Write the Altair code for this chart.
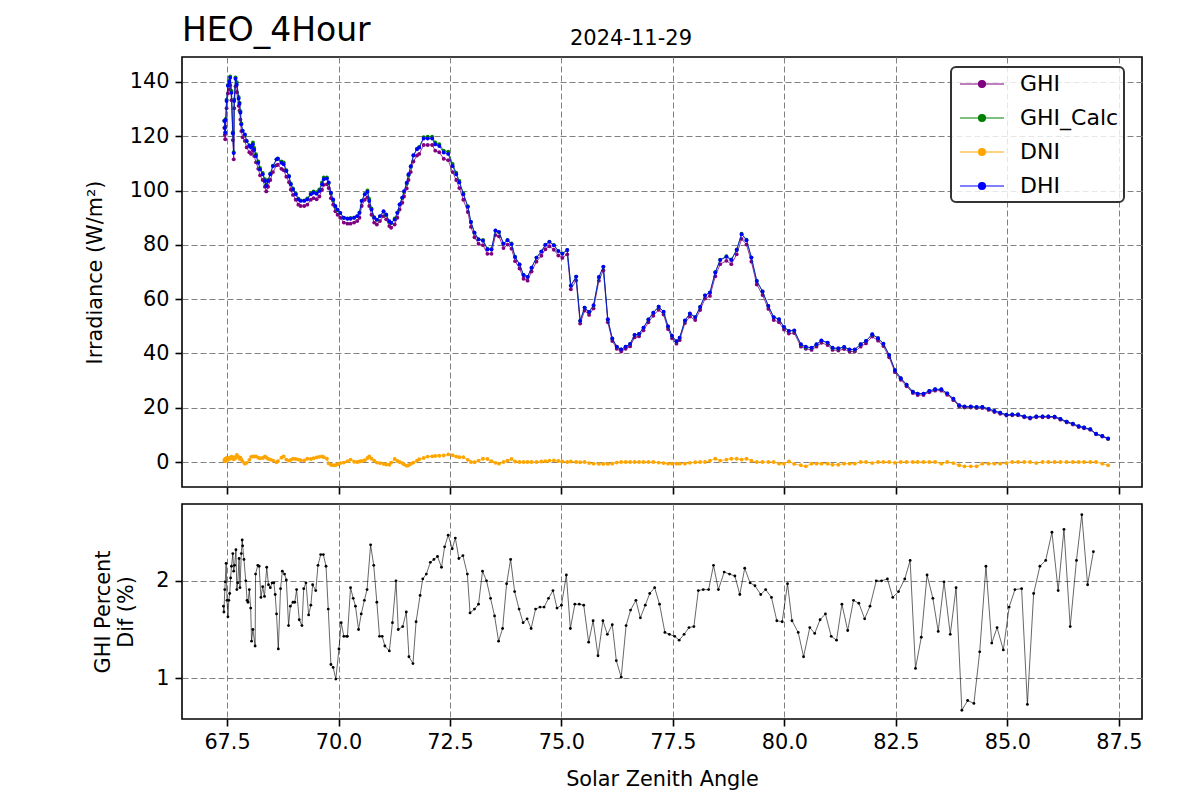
import altair as alt
import pandas as pd

FONT = "DejaVu Sans"

# ---------------- top panel data (solar zenith angle, W/m2) ----------------
sza = [
    67.44, 67.45, 67.46, 67.47, 67.49, 67.52, 67.55, 67.57, 67.60, 67.63,
    67.65, 67.66, 67.69, 67.72, 67.76, 67.78, 67.80, 67.82, 67.85, 67.90,
    67.94, 68.00, 68.04, 68.08, 68.11, 68.15, 68.20, 68.24, 68.30, 68.35,
    68.38, 68.42, 68.47, 68.53, 68.61, 68.64, 68.72, 68.77, 68.83, 68.89,
    68.93, 68.98, 69.04, 69.10, 69.15, 69.23, 69.30, 69.38, 69.44, 69.51,
    69.57, 69.63, 69.67, 69.74, 69.78, 69.83, 69.88, 69.93, 69.98, 70.04,
    70.12, 70.20, 70.27, 70.35, 70.42, 70.47, 70.52, 70.59, 70.65, 70.69,
    70.74, 70.80, 70.86, 70.93, 71.01, 71.07, 71.14, 71.18, 71.26, 71.32,
    71.37, 71.43, 71.47, 71.53, 71.57, 71.62, 71.68, 71.76, 71.81, 71.91,
    72.00, 72.10, 72.17, 72.26, 72.36, 72.46, 72.56, 72.64, 72.71, 72.80,
    72.90, 72.97, 73.05, 73.14, 73.24, 73.34, 73.43, 73.52, 73.60, 73.70,
    73.79, 73.88, 73.96, 74.06, 74.15, 74.24, 74.33, 74.44, 74.55, 74.64,
    74.73, 74.83, 74.93, 75.02, 75.13, 75.21, 75.33, 75.42, 75.52, 75.62,
    75.72, 75.84, 75.94, 76.04, 76.14, 76.24, 76.34, 76.44, 76.54, 76.64,
    76.74, 76.84, 76.95, 77.06, 77.18, 77.29, 77.39, 77.48, 77.58, 77.65,
    77.77, 77.88, 78.00, 78.11, 78.22, 78.33, 78.45, 78.56, 78.70, 78.81,
    78.93, 79.04, 79.15, 79.26, 79.38, 79.51, 79.64, 79.76, 79.88, 79.99,
    80.10, 80.22, 80.37, 80.48, 80.61, 80.72, 80.83, 80.97, 81.08, 81.21,
    81.34, 81.46, 81.58, 81.71, 81.83, 81.97, 82.10, 82.22, 82.35, 82.48,
    82.61, 82.74, 82.88, 82.99, 83.12, 83.25, 83.38, 83.52, 83.65, 83.79,
    83.92, 84.04, 84.18, 84.31, 84.44, 84.58, 84.71, 84.84, 84.98, 85.11,
    85.24, 85.38, 85.51, 85.65, 85.79, 85.92, 86.06, 86.19, 86.33, 86.47,
    86.60, 86.72, 86.86, 86.99, 87.13, 87.26,
]

dhi = [
    125.6, 123.0, 121.3, 126.0, 133.0, 138.6, 140.0, 141.6, 136.0, 121.0,
    113.8, 133.0, 141.2, 139.0, 133.9, 132.0, 128.7, 124.4, 122.0, 120.7,
    118.3, 116.4, 115.8, 117.0, 115.0, 112.7, 110.2, 107.8, 106.0, 103.5,
    101.7, 103.5, 106.0, 109.0, 111.5, 111.7, 110.2, 109.7, 107.2, 105.2,
    102.3, 100.4, 98.6, 96.7, 96.2, 96.2, 96.7, 98.6, 99.2, 98.8,
    99.8, 102.3, 104.2, 104.4, 103.0, 99.2, 96.7, 94.3, 93.0, 91.8,
    90.0, 89.6, 89.6, 90.0, 90.6, 91.8, 96.2, 98.6, 99.5, 96.2,
    93.0, 90.0, 89.3, 90.6, 92.4, 91.2, 88.7, 88.1, 89.3, 91.8,
    94.9, 97.4, 99.8, 102.9, 106.0, 109.0, 113.0, 115.2, 115.8, 119.2,
    119.2, 119.2, 117.0, 116.4, 114.0, 113.5, 109.0, 106.0, 103.0, 98.6,
    94.0, 88.4, 84.5, 82.0, 81.5, 78.3, 78.3, 85.3, 84.8, 80.4,
    81.7, 80.2, 75.5, 72.8, 68.9, 68.2, 71.6, 75.3, 77.5, 80.0,
    81.1, 79.8, 77.7, 76.7, 78.1, 64.9, 68.3, 52.0, 56.9, 55.3,
    57.8, 68.2, 72.0, 52.6, 45.5, 42.5, 41.5, 42.5, 43.5, 46.8,
    47.2, 49.5, 52.5, 55.0, 57.2, 55.4, 50.0, 46.5, 44.5, 45.8,
    52.2, 54.7, 53.4, 57.1, 61.4, 62.4, 69.8, 74.4, 75.6, 74.4,
    78.1, 83.9, 81.7, 75.3, 66.7, 62.8, 57.5, 53.4, 52.6, 49.8,
    48.3, 48.5, 43.4, 42.5, 42.1, 43.4, 44.8, 44.0, 42.1, 41.9,
    42.4, 41.5, 41.5, 43.4, 44.6, 47.1, 45.6, 43.6, 39.4, 33.8,
    30.9, 28.5, 25.9, 25.2, 25.2, 26.2, 26.8, 26.8, 25.3, 23.3,
    20.9, 20.5, 20.5, 20.3, 20.3, 19.6, 18.8, 18.2, 17.4, 17.5,
    17.5, 16.8, 16.3, 16.8, 16.8, 16.8, 16.7, 15.9, 14.9, 14.1,
    13.2, 12.7, 12.1, 10.4, 9.6, 8.7,
]

ghi = [
    123.1, 120.5, 118.9, 123.5, 130.3, 135.8, 137.2, 138.8, 133.3, 118.6,
    111.5, 130.3, 138.4, 136.2, 131.2, 129.4, 126.1, 121.9, 119.6, 118.3,
    115.9, 114.1, 113.5, 114.7, 112.7, 110.4, 108.0, 105.6, 103.9, 101.4,
    99.7, 101.4, 103.9, 106.8, 109.3, 109.5, 108.0, 107.5, 105.1, 103.1,
    100.3, 98.4, 96.6, 94.8, 94.3, 94.3, 94.8, 96.6, 97.2, 96.8,
    97.8, 100.3, 102.1, 102.3, 100.9, 97.2, 94.8, 92.4, 91.1, 90.0,
    88.2, 87.8, 87.8, 88.2, 88.8, 90.0, 94.3, 96.6, 97.5, 94.3,
    91.1, 88.2, 87.5, 88.8, 90.6, 89.4, 86.9, 86.3, 87.5, 90.0,
    93.0, 95.5, 97.8, 100.8, 103.9, 106.8, 110.7, 112.9, 113.5, 116.8,
    116.8, 116.8, 114.7, 114.1, 111.7, 111.2, 106.8, 103.9, 100.9, 96.6,
    92.1, 86.6, 82.8, 80.4, 79.9, 76.7, 76.7, 83.6, 83.1, 78.8,
    80.1, 78.6, 74.0, 71.3, 67.5, 66.8, 70.2, 73.8, 76.0, 78.4,
    79.5, 78.2, 76.1, 75.2, 76.5, 63.6, 66.9, 51.0, 55.8, 54.2,
    56.6, 66.8, 70.6, 51.5, 44.6, 41.7, 40.7, 41.7, 42.6, 45.9,
    46.3, 48.5, 51.5, 53.9, 56.1, 54.3, 49.0, 45.6, 43.6, 44.9,
    51.2, 53.6, 52.3, 56.0, 60.2, 61.2, 68.4, 72.9, 74.1, 72.9,
    76.5, 82.2, 80.1, 73.8, 65.4, 61.5, 56.4, 52.3, 51.5, 48.8,
    47.3, 47.5, 42.5, 41.7, 41.3, 42.5, 43.9, 43.1, 41.3, 41.1,
    41.6, 40.7, 40.7, 42.5, 43.7, 46.2, 44.7, 42.7, 38.6, 33.1,
    30.3, 27.9, 25.4, 24.7, 24.7, 25.7, 26.3, 26.3, 24.8, 22.8,
    20.5, 20.1, 20.1, 19.9, 19.9, 19.2, 18.4, 17.8, 17.1, 17.2,
    17.2, 16.5, 16.0, 16.5, 16.5, 16.5, 16.4, 15.6, 14.6, 13.8,
    12.9, 12.4, 11.9, 10.2, 9.4, 8.5,
]

ghi_calc = [
    125.8, 123.3, 121.4, 126.4, 133.5, 138.9, 140.5, 142.0, 136.7, 121.5,
    114.1, 133.6, 141.7, 139.9, 134.5, 132.4, 129.2, 124.7, 122.1, 120.5,
    118.2, 116.7, 116.4, 117.7, 115.7, 113.4, 110.7, 108.3, 106.5, 104.2,
    102.2, 103.9, 106.3, 109.2, 111.5, 111.8, 110.7, 110.4, 107.5, 105.4,
    102.6, 100.8, 99.0, 97.0, 96.4, 96.4, 97.1, 99.0, 99.7, 99.4,
    100.4, 103.0, 104.8, 104.8, 102.8, 98.9, 96.3, 93.9, 92.7, 91.7,
    89.9, 89.7, 89.9, 90.0, 90.6, 91.9, 96.3, 98.8, 100.0, 96.9,
    93.4, 90.2, 89.2, 90.5, 92.2, 90.9, 88.4, 88.0, 89.7, 91.9,
    94.9, 97.3, 99.5, 102.5, 105.6, 108.8, 112.9, 115.4, 116.1, 119.7,
    119.8, 119.8, 117.7, 117.1, 114.7, 114.3, 109.8, 106.6, 103.5, 99.1,
    94.2, 88.4, 84.5, 82.1, 81.8, 78.6, 78.4, 85.2, 84.6, 80.4,
    81.8, 80.5, 75.6, 72.8, 68.9, 68.2, 71.6, 75.3, 77.6, 80.1,
    81.2, 80.0, 77.8, 76.8, 78.1, 65.0, 68.3, 52.0, 56.9, 55.2,
    57.6, 68.0, 71.8, 52.4, 45.4, 42.5, 41.5, 42.5, 43.5, 46.8,
    47.2, 49.5, 52.5, 55.0, 57.2, 55.3, 49.9, 46.4, 44.4, 45.7,
    52.1, 54.6, 53.4, 57.1, 61.4, 62.5, 70.0, 74.5, 75.8, 74.6,
    78.3, 84.1, 81.9, 75.4, 66.7, 62.8, 57.5, 53.4, 52.5, 49.7,
    48.3, 48.4, 43.2, 42.2, 42.0, 43.3, 44.7, 43.9, 41.9, 41.7,
    42.3, 41.4, 41.4, 43.4, 44.6, 47.0, 45.6, 43.6, 39.4, 33.8,
    30.9, 28.5, 25.9, 25.2, 25.2, 26.2, 26.8, 26.7, 25.3, 23.3,
    20.8, 20.4, 20.4, 20.2, 20.3, 19.6, 18.8, 18.2, 17.4, 17.5,
    17.5, 16.8, 16.3, 16.8, 16.8, 16.8, 16.7, 15.9, 14.9, 14.1,
    13.2, 12.7, 12.1, 10.4, 9.6, 8.6,
]

dni = [
    0.5, 1.0, 0.3, 1.2, 1.5, 0.8, 1.6, 1.2, 2.0, 1.4,
    1.0, 1.8, 1.5, 2.6, 1.9, 1.2, 1.6, 0.9, 0.2, -0.6,
    -0.3, 0.8, 1.9, 2.1, 2.0, 2.1, 1.6, 1.4, 1.5, 2.1,
    1.6, 1.2, 0.9, 0.6, -0.1, 0.3, 1.6, 2.1, 0.9, 0.5,
    0.8, 1.2, 1.1, 0.9, 0.7, 0.6, 1.2, 1.1, 1.4, 1.7,
    1.9, 2.1, 1.8, 1.2, -0.5, -1.0, -1.2, -1.2, -0.8, -0.4,
    -0.2, 0.3, 0.9, 0.1, 0.0, 0.2, 0.4, 0.7, 1.5, 2.1,
    1.2, 0.5, -0.2, -0.4, -0.7, -0.9, -1.0, -0.2, 1.1, 0.4,
    0.0, -0.4, -0.9, -1.4, -1.2, -0.7, -0.2, 0.5, 1.0, 1.5,
    2.0, 2.1, 2.2, 2.3, 2.4, 2.8, 2.5, 2.0, 1.8, 1.8,
    0.8, 0.0, -0.1, 0.5, 1.2, 1.1, 0.3, -0.3, -0.6, 0.0,
    0.5, 1.1, 0.2, 0.0, 0.0, 0.0, 0.0, 0.0, 0.2, 0.3,
    0.5, 0.6, 0.4, 0.2, 0.0, 0.2, 0.0, -0.1, 0.0, -0.4,
    -0.6, -0.7, -0.7, -0.7, -0.6, -0.2, 0.0, 0.0, 0.0, 0.0,
    0.0, 0.0, 0.0, 0.0, -0.2, -0.4, -0.6, -0.6, -0.6, -0.6,
    -0.6, -0.3, -0.1, 0.0, 0.0, 0.5, 1.2, 0.5, 0.9, 1.2,
    1.2, 0.9, 1.2, 0.5, 0.0, 0.0, 0.0, 0.0, -0.6, -0.6,
    0.2, -0.7, -1.2, -1.6, -0.6, -0.6, -0.6, -0.6, -1.0, -1.0,
    -0.6, -0.6, -0.6, 0.0, 0.0, -0.4, 0.0, 0.0, 0.0, -0.3,
    0.0, 0.0, 0.0, 0.0, 0.0, 0.0, 0.0, -0.6, 0.0, -0.4,
    -1.2, -1.6, -1.6, -1.6, -0.6, -0.6, -0.6, -0.6, -0.4, 0.0,
    0.0, 0.0, 0.0, -0.4, 0.0, 0.0, 0.0, 0.0, 0.0, 0.0,
    0.0, 0.0, 0.0, 0.0, -0.6, -1.2,
]

# ---------------- bottom panel data (GHI percent difference) ----------------
sza_pct = [
    67.42, 67.43, 67.45, 67.46, 67.48, 67.50, 67.52, 67.54, 67.56, 67.58,
    67.60, 67.63, 67.65, 67.67, 67.70, 67.72, 67.74, 67.77, 67.79, 67.82,
    67.84, 67.85, 67.88, 67.92, 67.95, 67.97, 68.00, 68.03, 68.05, 68.08,
    68.13, 68.14, 68.19, 68.22, 68.26, 68.30, 68.34, 68.39, 68.43, 68.47,
    68.51, 68.55, 68.58, 68.61, 68.65, 68.70, 68.74, 68.79, 68.83, 68.88,
    68.92, 68.98, 69.02, 69.06, 69.12, 69.18, 69.22, 69.27, 69.33, 69.38,
    69.42, 69.49, 69.54, 69.60, 69.66, 69.72, 69.77, 69.83, 69.88, 69.94,
    70.01, 70.06, 70.12, 70.18, 70.20, 70.27, 70.33, 70.38, 70.45, 70.51,
    70.58, 70.64, 70.72, 70.79, 70.86, 70.92, 70.98, 71.04, 71.14, 71.21,
    71.29, 71.34, 71.44, 71.52, 71.58, 71.67, 71.74, 71.83, 71.89, 71.97,
    72.06, 72.14, 72.22, 72.31, 72.38, 72.46, 72.55, 72.62, 72.70, 72.79,
    72.89, 72.95, 73.05, 73.14, 73.23, 73.32, 73.41, 73.50, 73.59, 73.68,
    73.77, 73.86, 73.95, 74.05, 74.14, 74.23, 74.32, 74.42, 74.52, 74.61,
    74.71, 74.81, 74.90, 75.00, 75.11, 75.20, 75.30, 75.40, 75.50, 75.61,
    75.71, 75.82, 75.93, 76.03, 76.14, 76.23, 76.34, 76.45, 76.55, 76.67,
    76.77, 76.88, 76.98, 77.09, 77.20, 77.32, 77.42, 77.54, 77.64, 77.75,
    77.86, 77.97, 78.07, 78.18, 78.30, 78.41, 78.52, 78.65, 78.77, 78.89,
    79.00, 79.11, 79.23, 79.34, 79.47, 79.58, 79.71, 79.83, 79.95, 80.07,
    80.17, 80.31, 80.43, 80.57, 80.68, 80.80, 80.92, 81.05, 81.17, 81.29,
    81.42, 81.55, 81.67, 81.80, 81.92, 82.06, 82.18, 82.31, 82.43, 82.56,
    82.70, 82.82, 82.94, 83.07, 83.20, 83.33, 83.45, 83.58, 83.72, 83.85,
    83.98, 84.11, 84.25, 84.38, 84.52, 84.65, 84.77, 84.91, 85.04, 85.17,
    85.32, 85.45, 85.59, 85.73, 85.86, 86.00, 86.14, 86.27, 86.41, 86.55,
    86.67, 86.80, 86.93,
]

ghi_pct_dif = [
    1.74, 1.68, 1.91, 1.99, 2.18, 1.80, 1.63, 1.80, 1.87, 2.03,
    2.15, 2.28, 2.10, 2.16, 2.32, 1.91, 1.98, 2.23, 1.93, 2.28,
    2.42, 2.36, 2.22, 2.00, 1.80, 1.78, 1.91, 1.72, 1.38, 1.50,
    1.33, 2.07, 2.16, 2.15, 1.83, 1.94, 1.84, 2.14, 1.96, 1.93,
    1.98, 1.98, 1.86, 1.66, 1.30, 1.92, 2.10, 2.07, 2.01, 1.54,
    1.74, 1.78, 1.78, 1.91, 1.60, 1.54, 1.92, 1.98, 1.65, 1.75,
    1.96, 1.90, 2.16, 2.27, 2.27, 2.15, 1.71, 1.14, 1.11, 0.99,
    1.30, 1.57, 1.43, 1.43, 1.43, 1.93, 1.82, 1.74, 1.50, 1.66,
    1.80, 1.91, 2.37, 2.16, 1.78, 1.43, 1.43, 1.33, 1.28, 1.57,
    2.00, 1.50, 1.53, 1.68, 1.22, 1.15, 1.58, 1.85, 2.02, 2.07,
    2.19, 2.22, 2.25, 2.14, 2.35, 2.47, 2.33, 2.44, 2.23, 2.26,
    2.07, 1.67, 1.71, 1.76, 2.10, 2.00, 1.82, 1.64, 1.38, 1.51,
    1.97, 2.22, 1.89, 1.71, 1.57, 1.61, 1.51, 1.71, 1.73, 1.73,
    1.82, 1.90, 1.72, 1.75, 2.06, 1.51, 1.76, 1.76, 1.75, 1.37,
    1.59, 1.23, 1.59, 1.45, 1.55, 1.18, 1.01, 1.54, 1.70, 1.80,
    1.62, 1.75, 1.87, 1.93, 1.76, 1.47, 1.45, 1.43, 1.39, 1.45,
    1.52, 1.53, 1.90, 1.91, 1.91, 2.16, 1.91, 2.09, 2.07, 2.05,
    1.86, 2.13, 1.98, 1.95, 1.86, 1.91, 1.83, 1.59, 1.58, 1.97,
    1.59, 1.47, 1.22, 1.52, 1.46, 1.60, 1.66, 1.43, 1.39, 1.76,
    1.49, 1.80, 1.77, 1.61, 1.74, 2.00, 2.00, 2.02, 1.83, 1.89,
    2.02, 2.21, 1.10, 1.42, 2.06, 1.82, 1.48, 1.99, 1.45, 1.93,
    0.67, 0.77, 0.74, 1.27, 2.15, 1.36, 1.52, 1.29, 1.73, 1.91,
    1.92, 0.73, 1.87, 2.15, 2.21, 2.50, 1.90, 2.53, 1.53, 2.21,
    2.68, 1.96, 2.30,
]

series_names = ["GHI", "GHI_Calc", "DNI", "DHI"]
series_colors = ["purple", "green", "orange", "blue"]
x_ticks = [67.5, 70.0, 72.5, 75.0, 77.5, 80.0, 82.5, 85.0, 87.5]
y_ticks_top = [0, 20, 40, 60, 80, 100, 120, 140]
y_ticks_bottom = [1, 2]

# ---------------- build tables ----------------
rows = []
for name, vals in zip(series_names, [ghi, ghi_calc, dni, dhi]):
    for i, (x, v) in enumerate(zip(sza, vals)):
        rows.append({"sza": x, "value": v, "series": name, "idx": i})
top_df = pd.DataFrame(rows)
n = min(len(sza_pct), len(ghi_pct_dif))
pct_df = pd.DataFrame({"sza": sza_pct[:n], "pct": ghi_pct_dif[:n], "idx": list(range(n))})

x_scale = alt.Scale(domain=[66.49, 88.02], nice=False, zero=False)
c_scale = alt.Scale(domain=series_names, range=series_colors)

# legend symbol: a short line with a dot (drawn as concentric rings)
ring = ""
for r in ["0.32", "0.24", "0.16", "0.08"]:
    ring += "M-%s,0A%s,%s,0,1,1,%s,0A%s,%s,0,1,1,-%s,0" % (r, r, r, r, r, r, r)
legend_path = "M-2,0L2,0" + ring

legend = alt.Legend(
    title=None, orient="none", legendX=769, legendY=10,
    symbolType=legend_path, symbolSize=484, symbolStrokeWidth=1.1,
    symbolOffset=14, labelOffset=26, rowPadding=11, padding=5,
    labelFont=FONT, labelFontSize=22, labelColor="black",
    fillColor="rgba(255,255,255,0.8)", strokeColor="#333333", cornerRadius=5,
)

x_top = alt.X("sza:Q", scale=x_scale,
              axis=alt.Axis(values=x_ticks, labels=False, title=None))
y_top = alt.Y("value:Q", scale=alt.Scale(domain=[-9.2, 149.2], nice=False, zero=False),
              axis=alt.Axis(values=y_ticks_top, format="d", title="Irradiance (W/m²)",
                            titleX=-81, titleY=215, titleAngle=-90,
                            titleBaseline="alphabetic", titleAlign="center"))

layers = []
for name in series_names:
    sub = alt.Chart(top_df).transform_filter(alt.datum.series == name)
    layers.append(
        sub.mark_line(strokeWidth=0.8).encode(
            x=x_top, y=y_top,
            color=alt.Color("series:N", scale=c_scale, legend=legend),
            order="idx:Q")
    )
    layers.append(
        sub.mark_circle(size=15, opacity=1).encode(
            x=x_top, y=y_top,
            fill=alt.Fill("series:N", scale=c_scale, legend=None))
    )

title_txt = alt.Chart(pd.DataFrame({"t": ["HEO_4Hour"]})).mark_text(
    align="left", baseline="alphabetic", fontSize=33, font=FONT, color="black"
).encode(text="t:N", x=alt.value(0), y=alt.value(-16))
date_txt = alt.Chart(pd.DataFrame({"t": ["2024-11-29"]})).mark_text(
    align="center", baseline="alphabetic", fontSize=21, font=FONT, color="black"
).encode(text="t:N", x=alt.value(449), y=alt.value(-12))

top = alt.layer(*layers, title_txt, date_txt).properties(width=960, height=430)

x_bot = alt.X("sza:Q", scale=x_scale,
              axis=alt.Axis(values=x_ticks, format=".1f", title="Solar Zenith Angle",
                            titleX=480, titleY=66, titleBaseline="alphabetic",
                            titleAlign="center"))
y_bot = alt.Y("pct:Q", scale=alt.Scale(domain=[0.58, 2.79], nice=False, zero=False),
              axis=alt.Axis(values=y_ticks_bottom, format="d",
                            title=["GHI Percent", "Dif (%)"],
                            titleX=-73, titleY=107.5, titleAngle=-90,
                            titleBaseline="alphabetic", titleAlign="center",
                            titleLineHeight=23))

bottom = alt.layer(
    alt.Chart(pct_df).mark_line(color="black", strokeWidth=0.6).encode(
        x=x_bot, y=y_bot, order="idx:Q"),
    alt.Chart(pct_df).mark_point(filled=True, color="black", size=8, opacity=1).encode(
        x=x_bot, y=y_bot),
).properties(width=960, height=215)

chart = alt.vconcat(top, bottom, spacing=7).properties(
    padding={"left": 75, "top": 6, "right": 5, "bottom": 5},
    background="white",
).configure_view(
    stroke="black", strokeWidth=1.6
).configure_axis(
    labelFont=FONT, labelFontSize=20.8, labelColor="black", labelPadding=6,
    titleFont=FONT, titleFontSize=20.8, titleFontWeight="normal", titleColor="black",
    tickColor="black", tickWidth=1.6, tickSize=7,
    domain=False, grid=True, gridColor="#808080", gridDash=[6, 3],
    gridWidth=1, gridOpacity=1,
).configure_legend(
    strokeWidth=2
)

chart.save("out.html", embed_options={"renderer": "svg", "actions": False})
